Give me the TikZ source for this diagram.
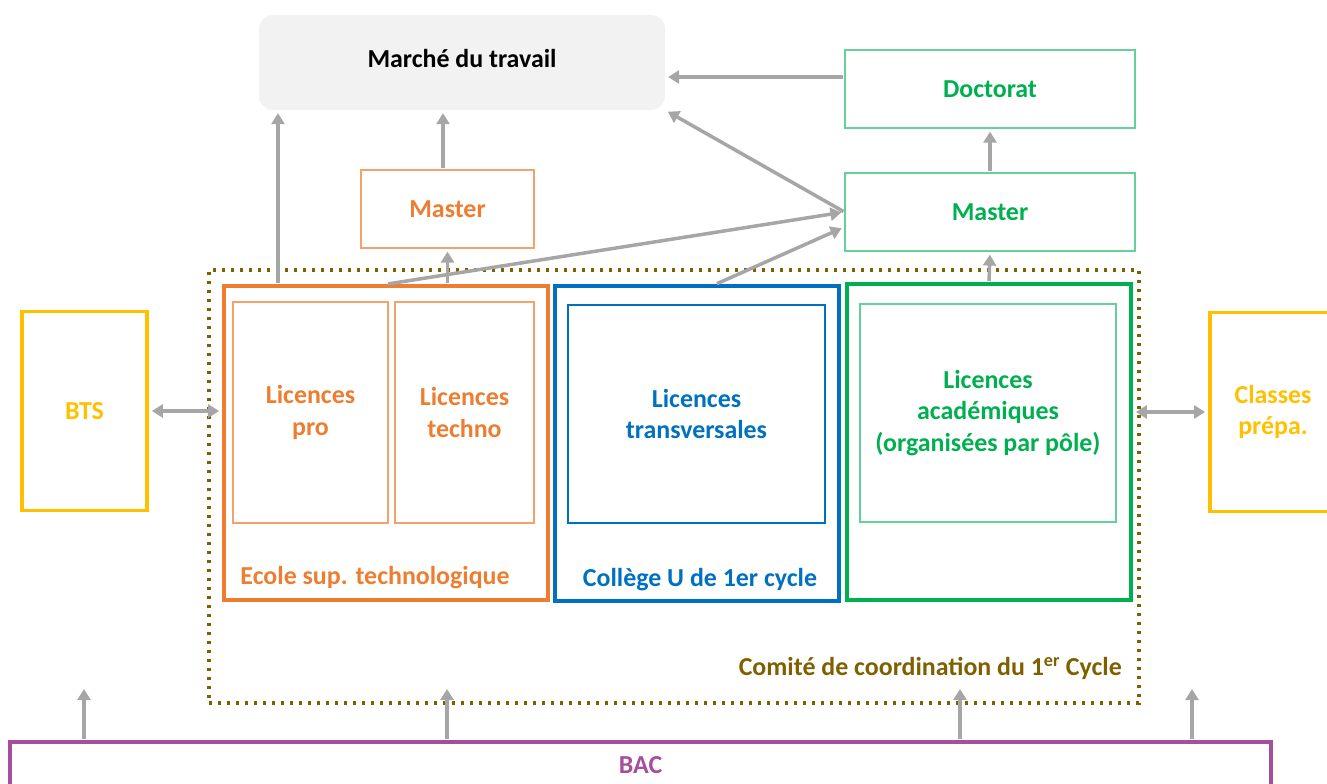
\documentclass[tikz,border=0pt]{standalone}
\usepackage{fontspec}
\setmainfont{Carlito}
\usetikzlibrary{arrows.meta,positioning}
\definecolor{orangeS}{HTML}{ED7D31}
\definecolor{orangeL}{HTML}{F4A26B}
\definecolor{blueS}{HTML}{0070C0}
\definecolor{greenS}{HTML}{00B050}
\definecolor{greenL}{HTML}{66D09A}
\definecolor{yellowS}{HTML}{FFC000}
\definecolor{purpleS}{HTML}{A64D9E}
\definecolor{brownS}{HTML}{7F6000}
\definecolor{greyA}{HTML}{A6A6A6}
\definecolor{greyF}{HTML}{F2F2F2}

\begin{document}
\begin{tikzpicture}[x=1bp, y=-1bp,
    every node/.style={align=center, inner sep=0pt, font=\fontsize{26}{32}\selectfont\bfseries},
    box/.style={draw, rectangle},
    thinbox/.style={box, line width=1.2bp},
    thickbox/.style={box, line width=3.8bp},
    flow/.style={draw=greyA, line width=3.5bp, shorten >=3bp, shorten <=1bp,
      -{Triangle[length=11bp,width=13bp]}},
    both/.style={flow, shorten <=3bp,
      {Triangle[length=11bp,width=13bp]}-{Triangle[length=11bp,width=13bp]}}
  ]
  \clip (0,0) rectangle (1327,783);

  % debouches
  \node[fill=greyF, rounded corners=14bp, minimum width=406bp, minimum height=95bp, text depth=8bp]
    (marche) at (462,62.5) {Marché du travail};
  \node[thinbox, draw=orangeL, text=orangeS, minimum width=173bp, minimum height=78bp]
    (mastero) at (447.5,209) {Master};
  \node[thinbox, draw=greenL, text=greenS, minimum width=290bp, minimum height=78bp]
    (doctorat) at (990,89) {Doctorat};
  \node[thinbox, draw=greenL, text=greenS, minimum width=290bp, minimum height=78bp]
    (masterv) at (990,212) {Master};

  % premier cycle
  \node[box, draw=brownS, line width=3.3bp, dash pattern=on 3.3bp off 5.7bp,
    minimum width=930bp, minimum height=433bp] (comite) at (674,486.5) {};
  \node[text=brownS, anchor=east] (comitelbl) at (1122,668) {Comité de coordination du 1\textsuperscript{er} Cycle};

  \node[thickbox, draw=orangeS, minimum width=324bp, minimum height=314bp] (ecole) at (386,443) {};
  \node[thinbox, draw=orangeL, text=orangeS, minimum width=155bp, minimum height=221bp]
    (licpro) at (310.5,412.5) {Licences\\pro};
  \node[thinbox, draw=orangeL, text=orangeS, minimum width=139bp, minimum height=221bp]
    (lictechno) at (464.5,412.5) {Licences\\techno};
  \node[text=orangeS] (ecolelbl) at (375,578) {Ecole sup. technologique};

  \node[thickbox, draw=blueS, minimum width=284bp, minimum height=315bp] (college) at (697,443.5) {};
  \node[thinbox, draw=blueS, text=blueS, minimum width=257bp, minimum height=218bp]
    (lictrans) at (696.5,414) {Licences\\transversales};
  \node[text=blueS] (collegelbl) at (700,580) {Collège U de 1er cycle};

  \node[thickbox, draw=greenS, minimum width=284bp, minimum height=316bp] (academ) at (989,442) {};
  \node[thinbox, draw=greenL, text=greenS, minimum width=256bp, minimum height=218bp]
    (licacad) at (988,413) {Licences\\académiques\\(organisées par pôle)};

  % a cote
  \node[thickbox, draw=yellowS, text=yellowS, minimum width=125bp, minimum height=199bp]
    (bts) at (84.5,411) {BTS};
  \node[thickbox, draw=yellowS, text=yellowS, minimum width=126bp, minimum height=199bp]
    (classes) at (1273,412) {Classes\\prépa.};
  \node[thickbox, draw=purpleS, text=purpleS, minimum width=1261bp, minimum height=46bp]
    (bac) at (640.5,765) {BAC};

  % fleches
  \draw[flow] (278,0 |- ecole.north) -- (278,0 |- marche.south);
  \draw[flow] (mastero.north -| 443,0) -- (443,0 |- marche.south);
  \draw[flow] (mastero.south |- ecole.north) -- (mastero.south);
  \draw[flow] (doctorat.west |- 0,77) -- (marche.east |- 0,77);
  \draw[flow] (masterv.west) -- (marche.south east);
  \draw[flow] (387,0 |- ecole.north) -- (masterv.west);
  \draw[flow] (716,0 |- college.north) -- ([yshift=-15bp]masterv.west);
  \draw[flow] (academ.north) -- (masterv.south);
  \draw[flow] (masterv.north) -- (doctorat.south);
  \draw[both] (bts.east) -- (bts.east -| ecole.west);
  \draw[both] (academ.east |- classes.west) -- (classes.west);
  \foreach \x [count=\i] in {84,447,960,1192} {
    \coordinate (up\i) at (\x,686);
    \draw[flow] (\x,0 |- bac.north) -- (up\i);
  }
\end{tikzpicture}
\end{document}
